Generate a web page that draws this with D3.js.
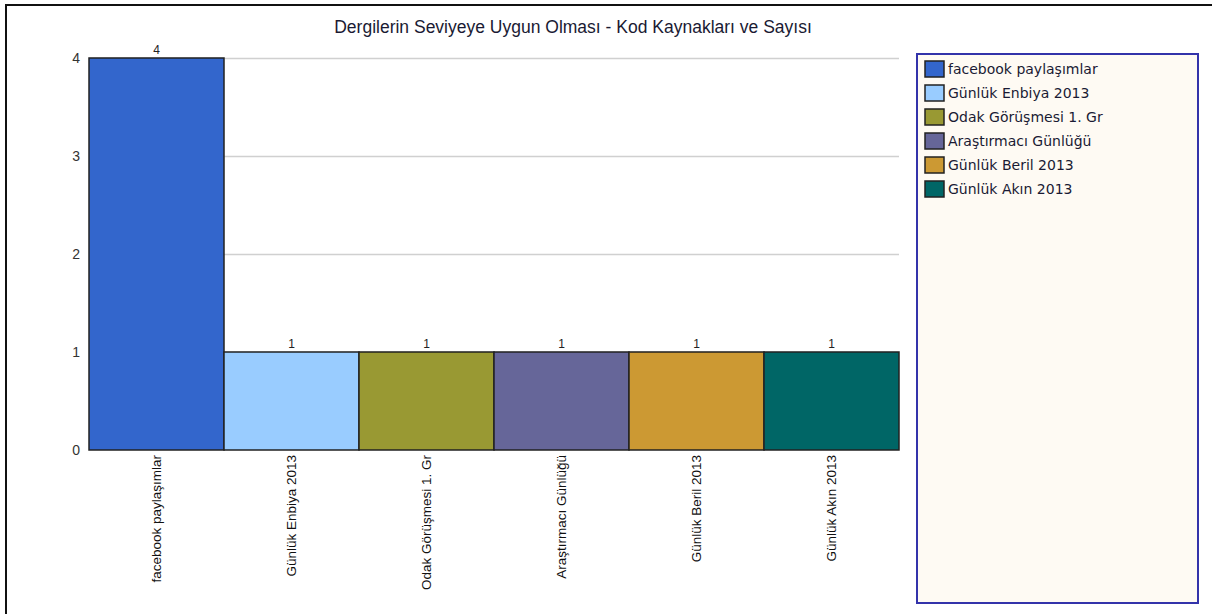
<!DOCTYPE html>
<html>
<head>
<meta charset="utf-8">
<script src="https://cdn.jsdelivr.net/npm/d3@7"></script>
<style>
  body { margin: 0; background: #fff; }
  svg { display: block; font-family: "Liberation Sans", Arial, sans-serif; }
</style>
</head>
<body>
<div id="chart"></div>
<script>
// chart data
var titleText = "Dergilerin Seviyeye Uygun Olması - Kod Kaynakları ve Sayısı";
var categories = ["facebook paylaşımlar", "Günlük Enbiya 2013", "Odak Görüşmesi 1. Gr",
                  "Araştırmacı Günlüğü", "Günlük Beril 2013", "Günlük Akın 2013"];
var counts = [4, 1, 1, 1, 1, 1];
var barColors = ["#3366CC", "#99CCFF", "#999933", "#666699", "#CC9933", "#006666"];
var yTicks = [0, 1, 2, 3, 4];

var width = 1212, height = 614;
var plot = { left: 89, right: 899, top: 58, bottom: 450 };

var svg = d3.select("#chart").append("svg")
    .attr("width", width)
    .attr("height", height);

// outer frame
svg.append("rect")
    .attr("x", 6).attr("y", 5)
    .attr("width", width).attr("height", height)
    .attr("fill", "#fff")
    .attr("stroke", "#111")
    .attr("stroke-width", 2);

svg.append("text")
    .attr("x", 573).attr("y", 33)
    .attr("text-anchor", "middle")
    .style("font-size", "17.5px")
    .style("fill", "#1a1a33")
    .text(titleText);

var x = d3.scaleBand().domain(categories).range([plot.left, plot.right]).padding(0);
var y = d3.scaleLinear().domain([0, 4]).range([plot.bottom, plot.top]);

// grid lines
svg.append("g").selectAll("line")
    .data(yTicks.filter(function(t) { return t > 0; }))
    .join("line")
    .attr("x1", plot.left).attr("x2", plot.right)
    .attr("y1", function(d) { return y(d) + 0.5; })
    .attr("y2", function(d) { return y(d) + 0.5; })
    .attr("stroke", "#d0d0d0")
    .attr("stroke-width", 1.5);

// y axis labels
var yAxis = d3.axisLeft(y).tickValues(yTicks).tickSize(0).tickPadding(9).tickFormat(d3.format("d"));
var yg = svg.append("g").attr("transform", "translate(" + plot.left + ",0)").call(yAxis);
yg.select(".domain").remove();
yg.selectAll("text")
    .style("font-size", "14px")
    .style("fill", "#333")
    .style("font-family", "'Liberation Sans', Arial, sans-serif");

// bars
svg.append("g").selectAll("rect")
    .data(counts)
    .join("rect")
    .attr("x", function(d, i) { return x(categories[i]); })
    .attr("y", function(d) { return y(d); })
    .attr("width", x.bandwidth())
    .attr("height", function(d) { return y(0) - y(d); })
    .attr("fill", function(d, i) { return barColors[i]; })
    .attr("stroke", "#222")
    .attr("stroke-width", 1.5);

// value labels
svg.append("g").selectAll("text")
    .data(counts)
    .join("text")
    .attr("x", function(d, i) { return x(categories[i]) + x.bandwidth() / 2; })
    .attr("y", function(d) { return y(d) - 4; })
    .attr("text-anchor", "middle")
    .style("font-size", "12px")
    .style("fill", "#222")
    .text(function(d) { return d; });

// x labels (rotated)
var xAxis = d3.axisBottom(x).tickSize(0).tickPadding(0);
var xg = svg.append("g").attr("transform", "translate(0," + plot.bottom + ")").call(xAxis);
xg.select(".domain").remove();
xg.selectAll("text")
    .attr("transform", "rotate(-90)")
    .attr("x", -5)
    .attr("y", 0)
    .attr("dy", "0.35em")
    .attr("text-anchor", "end")
    .style("font-size", "13.5px")
    .style("fill", "#111")
    .style("font-family", "'Liberation Sans Narrow', 'Liberation Sans', Arial, sans-serif");

// legend
var legend = svg.append("g");
legend.append("rect")
    .attr("x", 917).attr("y", 54)
    .attr("width", 281).attr("height", 549)
    .attr("fill", "#FEFAF3")
    .attr("stroke", "#3333AA")
    .attr("stroke-width", 2);

var items = legend.selectAll("g.item")
    .data(categories)
    .join("g")
    .attr("class", "item")
    .attr("transform", function(d, i) { return "translate(925," + (61 + i * 24) + ")"; });

items.append("rect")
    .attr("width", 19).attr("height", 16)
    .attr("fill", function(d, i) { return barColors[i]; })
    .attr("stroke", "#222")
    .attr("stroke-width", 1.5);

items.append("text")
    .attr("x", 23).attr("y", 13)
    .style("font-size", "14px")
    .style("font-family", "Verdana, 'DejaVu Sans', sans-serif")
    .style("fill", "#1a1a33")
    .text(function(d) { return d; });
</script>
</body>
</html>
